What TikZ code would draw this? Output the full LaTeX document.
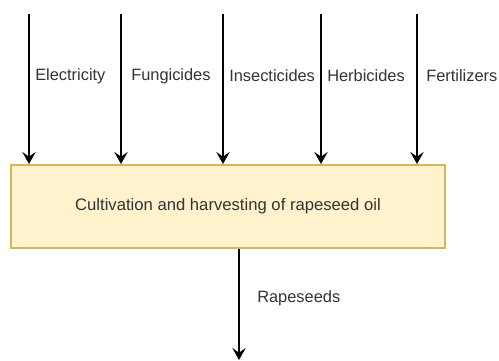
\documentclass[tikz,border=0pt]{standalone}
\usepackage{fontspec}
\setmainfont{Liberation Sans}
\definecolor{boxfill}{RGB}{255,242,204}
\definecolor{boxline}{RGB}{214,182,86}
\definecolor{labeltext}{RGB}{51,51,51}
\usetikzlibrary{arrows.meta, positioning}

\begin{document}
\begin{tikzpicture}[
          x=0.75pt, y=-0.75pt,
          procbox/.style={
              draw=boxline,
              fill=boxfill,
              line width=1.5pt,
              minimum width=325.5pt,
              minimum height=62.25pt,
              inner sep=0pt,
              font=\fontsize{12.5}{14}\selectfont,
              text=labeltext
            },
          flowlabel/.style={
              anchor=west,
              inner sep=0pt,
              font=\fontsize{12.3}{14}\selectfont,
              text=labeltext
            },
          arr/.style={-{Stealth[length=9pt, width=10pt, inset=3.5pt]}, black, line width=1.5pt}
        ]
        \useasboundingbox (0,0) rectangle (499,360);
        \node[procbox] (cult) at (228,206.5) {Cultivation and harvesting of rapeseed oil};
        % inputs
        \coordinate (elec) at (29,14);
        \coordinate (fung) at (121,14);
        \coordinate (insect) at (223,14);
        \coordinate (herb) at (321,14);
        \coordinate (fert) at (417,14);
        \draw[arr] (elec) -- (elec |- cult.north);
        \draw[arr] (fung) -- (fung |- cult.north);
        \draw[arr] (insect) -- (insect |- cult.north);
        \draw[arr] (herb) -- (herb |- cult.north);
        \draw[arr] (fert) -- (fert |- cult.north);
        \node[flowlabel] (eleclbl) at (35,76) {Electricity};
        \node[flowlabel] (funglbl) at (131,76) {Fungicides};
        \node[flowlabel] (insectlbl) at (229,76) {Insecticides};
        \node[flowlabel] (herblbl) at (327,76) {Herbicides};
        \node[flowlabel] (fertlbl) at (426,76) {Fertilizers};
        % output
        \coordinate (seeds) at (239,360);
        \draw[arr] (seeds |- cult.south) -- (seeds);
        \node[flowlabel] (seedslbl) at (257,298) {Rapeseeds};
      \end{tikzpicture}
\end{document}
